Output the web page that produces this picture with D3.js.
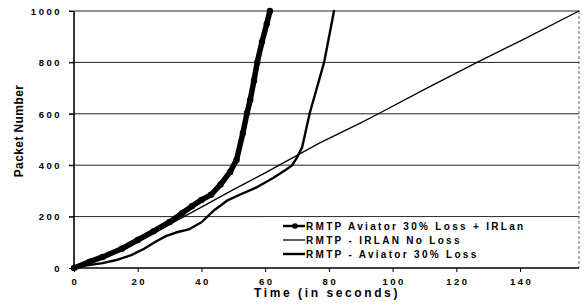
<!DOCTYPE html>
<html>
<head>
<meta charset="utf-8">
<script src="https://cdn.jsdelivr.net/npm/d3@7"></script>
<style>
  body { margin: 0; background: #fff; }
  svg text { font-family: "Liberation Sans", Arial, sans-serif; font-weight: bold; fill: #000; }
</style>
</head>
<body>
<svg id="chart" width="584" height="307"></svg>
<script>
// values (time in s, packet number)
var lossIrlanT = [0, 5, 9, 15, 20, 25, 30, 34, 37, 40, 43, 46, 49, 51, 53, 54.3, 55.3, 56.5, 57.5, 59, 60.5, 61.5];
var lossIrlanV = [0, 25, 43, 75, 109, 143, 179, 214, 240, 265, 285, 325, 374, 420, 525, 603, 654, 730, 800, 880, 950, 1000];

var irlanT = [0, 10, 20, 30, 40, 50, 60, 70, 77, 90, 96, 110, 126.5, 140, 158.5];
var irlanV = [0, 50, 105, 170, 237, 305, 370, 438, 486, 565, 603, 695, 800, 883, 1000];

var lossT = [0, 4, 9, 13, 18, 22, 26, 29, 32, 36, 40, 44, 48, 52, 57.5, 62.5, 66, 68.5, 70, 71.6, 74, 78.5, 81.6];
var lossV = [0, 10, 19, 30, 50, 75, 105, 125, 138, 150, 178, 225, 262, 285, 315, 350, 378, 400, 430, 470, 603, 800, 1000];

var xTicks = [0, 20, 40, 60, 80, 100, 120, 140];
var yTicks = [0, 200, 400, 600, 800, 1000];

var seriesNames = ["RMTP Aviator 30% Loss + IRLan", "RMTP - IRLAN No Loss", "RMTP - Aviator 30% Loss"];

function zip(t, v){
  return t.map(function(d, i){ return {t: d, v: v[i]}; });
}

var series = [
  {name: seriesNames[0], pts: zip(lossIrlanT, lossIrlanV), width: 5.5, marker: true},
  {name: seriesNames[1], pts: zip(irlanT, irlanV), width: 1.3, marker: false},
  {name: seriesNames[2], pts: zip(lossT, lossV), width: 2.4, marker: false}
];

var svg = d3.select("#chart");
var x = d3.scaleLinear().domain([0, 158.5]).range([74, 579]);
var y = d3.scaleLinear().domain([0, 1000]).range([268, 11]);

// gridlines
svg.append("g").selectAll("line").data(yTicks.slice(1)).join("line")
  .attr("x1", 69).attr("x2", 579)
  .attr("y1", function(d){ return y(d); }).attr("y2", function(d){ return y(d); })
  .attr("stroke", "#222").attr("stroke-width", 1);

// right border, faint
svg.append("line").attr("x1", 579).attr("x2", 579).attr("y1", y(1000)).attr("y2", y(0))
  .attr("stroke", "#666").attr("stroke-width", 1).attr("stroke-dasharray", "3,2");

// axes
var xAxis = d3.axisBottom(x).tickValues(xTicks).tickSize(4).tickPadding(6).tickFormat(d3.format("d"));
var yAxis = d3.axisLeft(y).tickValues(yTicks).tickSize(5).tickPadding(7).tickFormat(d3.format("d"));

var gx = svg.append("g").attr("transform", "translate(0," + y(0) + ")").call(xAxis);
var gy = svg.append("g").attr("transform", "translate(" + x(0) + ",0)").call(yAxis);
gx.select(".domain").attr("d", "M" + x(0) + ",0H579").attr("stroke-width", 1.4);
gy.select(".domain").attr("d", "M0," + y(0) + "V" + y(1000)).attr("stroke-width", 1.6);
gx.selectAll("text").attr("font-size", 9.5).style("letter-spacing", "2.5px").attr("dx", 1);
gy.selectAll("text").attr("font-size", 9.5).style("letter-spacing", "2.5px").attr("dy", "0.35em");

// legend box (white, sits on the 200 gridline)
svg.append("rect").attr("x", 262).attr("y", y(200) + 1).attr("width", 316).attr("height", y(0) - y(200) - 2)
  .attr("fill", "#fff");

var line = d3.line().x(function(d){ return x(d.t); }).y(function(d){ return y(d.v); });

series.forEach(function(s){
  svg.append("path").datum(s.pts).attr("d", line)
    .attr("fill", "none").attr("stroke", "#000").attr("stroke-width", s.width)
    .attr("stroke-linejoin", "round").attr("stroke-linecap", "round");
  if(s.marker){
    svg.append("g").selectAll("circle").data(s.pts).join("circle")
      .attr("cx", function(d){ return x(d.t); }).attr("cy", function(d){ return y(d.v); })
      .attr("r", 3.2).attr("fill", "#000");
  }
});

// legend entries
var lg = svg.append("g");
series.forEach(function(s, i){
  var ly = 226 + i * 14;
  lg.append("line").attr("x1", 283).attr("x2", 305).attr("y1", ly).attr("y2", ly)
    .attr("stroke", "#000").attr("stroke-width", s.width > 3 ? 2.4 : s.width);
  if(s.marker){
    lg.append("circle").attr("cx", 295).attr("cy", ly).attr("r", 2.8).attr("fill", "#000");
  }
  lg.append("text").attr("x", 306).attr("y", ly).attr("dy", "0.36em")
    .attr("font-size", 10).style("letter-spacing", "2.3px").text(s.name);
});

// titles
svg.append("text").attr("x", 327).attr("y", 297).attr("text-anchor", "middle")
  .attr("font-size", 12).style("letter-spacing", "2.6px").text("Time (in seconds)");
svg.append("text").attr("transform", "translate(23,131) rotate(-90)").attr("text-anchor", "middle")
  .attr("font-size", 12).style("letter-spacing", "0.4px").text("Packet Number");
</script>
</body>
</html>
